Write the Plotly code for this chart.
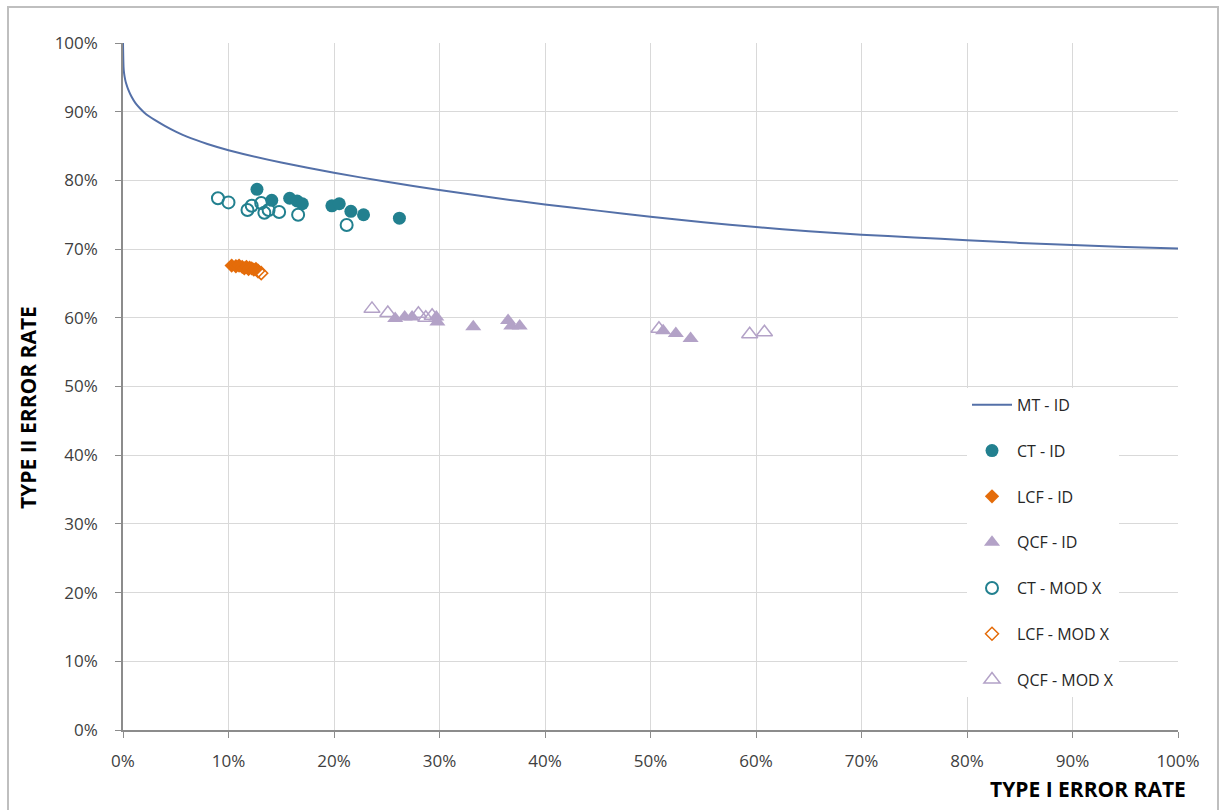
import plotly.graph_objects as go

# MT - ID trade-off curve (type I rate -> type II rate)
mt_x = [0.0, 0.0005, 0.001, 0.002, 0.003, 0.005, 0.008, 0.012, 0.016, 0.02, 0.025, 0.03, 0.04,
        0.05, 0.06, 0.08, 0.1, 0.15, 0.2, 0.25, 0.3, 0.35, 0.4, 0.45, 0.5, 0.55, 0.6, 0.65,
        0.7, 0.75, 0.8, 0.85, 0.9, 0.95, 1.0]
mt_y = [1.0, 0.965, 0.956, 0.947, 0.941, 0.932, 0.922, 0.912, 0.905, 0.899, 0.893, 0.888, 0.879,
        0.871, 0.864, 0.853, 0.844, 0.826, 0.811, 0.798, 0.786, 0.775, 0.765, 0.756, 0.747, 0.739,
        0.732, 0.726, 0.721, 0.717, 0.713, 0.709, 0.706, 0.703, 0.701]

# CT - ID
ct_id_x = [0.127, 0.141, 0.158, 0.165, 0.170, 0.198, 0.205, 0.216, 0.228, 0.262]
ct_id_y = [0.787, 0.771, 0.774, 0.770, 0.766, 0.763, 0.766, 0.755, 0.750, 0.745]

# LCF - ID
lcf_id_x = [0.103, 0.107, 0.110, 0.113, 0.115, 0.117, 0.119, 0.120, 0.122, 0.124, 0.126]
lcf_id_y = [0.676, 0.675, 0.676, 0.674, 0.672, 0.674, 0.671, 0.673, 0.672, 0.670, 0.671]

# QCF - ID
qcf_id_x = [0.258, 0.267, 0.274, 0.297, 0.298, 0.332, 0.365, 0.368, 0.376, 0.512, 0.524, 0.538]
qcf_id_y = [0.599, 0.601, 0.601, 0.601, 0.594, 0.587, 0.596, 0.588, 0.588, 0.581, 0.577, 0.570]

# CT - MOD X
ct_mod_x = [0.090, 0.100, 0.118, 0.122, 0.131, 0.134, 0.138, 0.148, 0.166, 0.212]
ct_mod_y = [0.774, 0.768, 0.757, 0.763, 0.767, 0.753, 0.757, 0.754, 0.750, 0.735]

# LCF - MOD X
lcf_mod_x = [0.128, 0.131]
lcf_mod_y = [0.668, 0.665]

# QCF - MOD X
qcf_mod_x = [0.236, 0.251, 0.280, 0.287, 0.293, 0.508, 0.594, 0.608]
qcf_mod_y = [0.613, 0.607, 0.606, 0.600, 0.603, 0.584, 0.576, 0.579]

TEAL = "#22808F"
ORANGE = "#E46C0A"
LAVENDER = "#B3A2C7"
LINE = "#5470A8"
FONT = "Open Sans, sans-serif"

fig = go.Figure()
fig.add_trace(go.Scatter(x=mt_x, y=mt_y, mode="lines", name="MT - ID",
                         line=dict(color=LINE, width=2, shape="spline", smoothing=0.5),
                         legendgroup="a"))
fig.add_trace(go.Scatter(x=ct_id_x, y=ct_id_y, mode="markers", name="CT - ID",
                         marker=dict(symbol="circle", size=13, color=TEAL), legendgroup="b"))
fig.add_trace(go.Scatter(x=lcf_id_x, y=lcf_id_y, mode="markers", name="LCF - ID",
                         marker=dict(symbol="diamond", size=11, color=ORANGE), legendgroup="c"))
fig.add_trace(go.Scatter(x=qcf_id_x, y=qcf_id_y, mode="markers", name="QCF - ID",
                         marker=dict(symbol="triangle-up", size=14, color=LAVENDER), legendgroup="d"))
fig.add_trace(go.Scatter(x=ct_mod_x, y=ct_mod_y, mode="markers", name="CT - MOD X",
                         marker=dict(symbol="circle-open", size=12, color=TEAL, line=dict(width=2)),
                         legendgroup="e"))
fig.add_trace(go.Scatter(x=lcf_mod_x, y=lcf_mod_y, mode="markers", name="LCF - MOD X",
                         marker=dict(symbol="diamond-open", size=10, color=ORANGE, line=dict(width=1.5)),
                         legendgroup="f"))
fig.add_trace(go.Scatter(x=qcf_mod_x, y=qcf_mod_y, mode="markers", name="QCF - MOD X",
                         marker=dict(symbol="triangle-up-open", size=14, color=LAVENDER, line=dict(width=1.5)),
                         legendgroup="g"))

tick_font = dict(family=FONT, size=17, color="#404040")
axis_common = dict(range=[0, 1], dtick=0.1, tickformat=".0%", showgrid=True,
                   gridcolor="#D9D9D9", gridwidth=1, showline=True, linecolor="#8C8C8C",
                   linewidth=1.5, ticks="outside", ticklen=6, tickcolor="#8C8C8C",
                   zeroline=False, tickfont=tick_font, fixedrange=True)

fig.update_xaxes(**axis_common, ticklabelstandoff=9)
fig.update_yaxes(**axis_common, ticklabelstandoff=14)

fig.update_layout(
    width=1220, height=810,
    margin=dict(l=123, r=42, t=43, b=80),
    paper_bgcolor="white", plot_bgcolor="white",
    showlegend=True,
    legend=dict(x=0.80, y=0.498, xanchor="left", yanchor="top",
                bgcolor="white", borderwidth=0, traceorder="grouped",
                tracegroupgap=22, itemwidth=40,
                font=dict(family=FONT, size=16, color="#262626")),
    annotations=[
        dict(text="<b>TYPE I ERROR RATE</b>", xref="paper", yref="paper",
             x=(1188 - 123) / 1055, y=(730 - 789) / 687, xanchor="right", yanchor="middle",
             showarrow=False, font=dict(family=FONT, size=21, color="#000000")),
        dict(text="<b>TYPE II ERROR RATE</b>", xref="paper", yref="paper",
             x=(28 - 123) / 1055, y=(730 - 408) / 687, xanchor="center", yanchor="middle",
             textangle=-90, showarrow=False,
             font=dict(family=FONT, size=21, color="#000000")),
    ],
    shapes=[
        dict(type="rect", xref="paper", yref="paper",
             x0=(8 - 123) / 1055, x1=(1218 - 123) / 1055,
             y0=(730 - 830) / 687, y1=(730 - 7) / 687,
             line=dict(color="#BFBFBF", width=2), fillcolor="rgba(0,0,0,0)", layer="below"),
    ],
)

fig.write_html("out.html")
